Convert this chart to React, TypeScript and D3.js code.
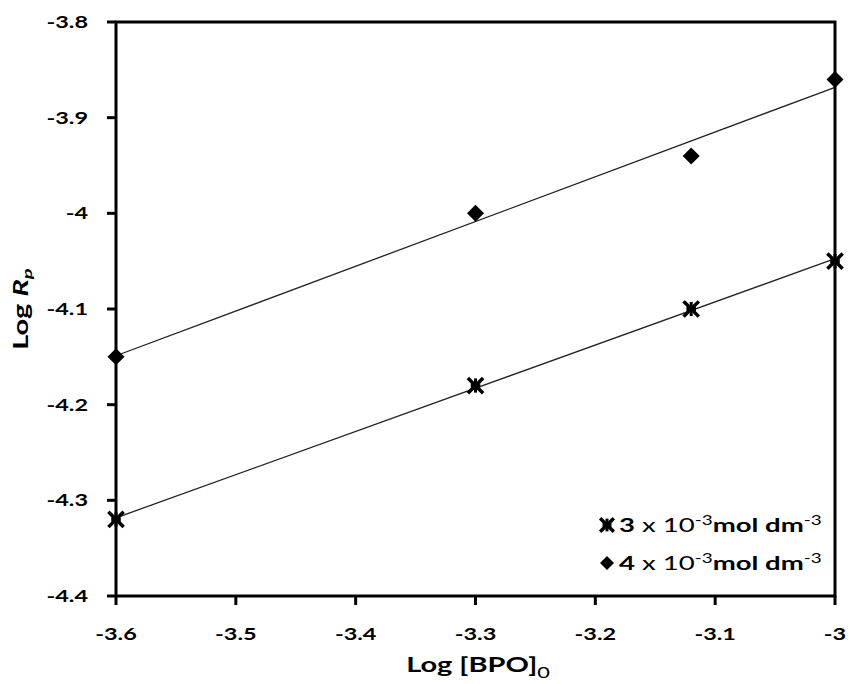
import React from "react";
import * as d3 from "d3";

const xValues = [-3.6, -3.3, -3.12, -3.0];
const series3 = [-4.32, -4.18, -4.10, -4.05];
const series4 = [-4.15, -4.00, -3.94, -3.86];
const xTicks = [-3.6, -3.5, -3.4, -3.3, -3.2, -3.1, -3.0];
const yTicks = [-3.8, -3.9, -4.0, -4.1, -4.2, -4.3, -4.4];
const legendLabels = ["3", "4"];

const W = 850, H = 684;
const left = 116, right = 835, top = 22, bottom = 596;
const FONT = "Lato, 'Open Sans', sans-serif";
const SX = 1.38;

function fit(xs: number[], ys: number[]) {
  const mx = d3.mean(xs)!, my = d3.mean(ys)!;
  let sxx = 0, sxy = 0;
  xs.forEach((x, i) => { sxx += (x - mx) ** 2; sxy += (x - mx) * (ys[i] - my); });
  const b = sxy / sxx;
  return (x: number) => my + b * (x - mx);
}

function Star({ x, y, s = 8 }: { x: number; y: number; s?: number }) {
  return (
    <g stroke="#000" strokeLinecap="square">
      <line x1={x - s * 0.8} y1={y - s * 0.8} x2={x + s * 0.8} y2={y + s * 0.8} strokeWidth={3.5} />
      <line x1={x - s * 0.8} y1={y + s * 0.8} x2={x + s * 0.8} y2={y - s * 0.8} strokeWidth={3.5} />
      <line x1={x} y1={y - s * 0.7} x2={x} y2={y + s * 0.7} strokeWidth={3} />
      <line x1={x - s * 0.35} y1={y} x2={x + s * 0.35} y2={y} strokeWidth={4} />
    </g>
  );
}

function Diamond({ x, y, s = 8.5 }: { x: number; y: number; s?: number }) {
  return <path d={`M${x},${y - s}L${x + s},${y}L${x},${y + s}L${x - s},${y}Z`} fill="#000" />;
}

export default function App() {
  const xs = d3.scaleLinear().domain([-3.6, -3.0]).range([left, right]);
  const ys = d3.scaleLinear().domain([-4.4, -3.8]).range([bottom, top]);
  const f3 = fit(xValues, series3);
  const f4 = fit(xValues, series4);
  const fmt = (v: number) => (Math.abs(v - Math.round(v)) < 1e-9 ? String(Math.round(v)) : v.toFixed(1));
  const legendY = [532, 570];
  return (
    <svg width={W} height={H} style={{ position: "absolute", left: 0, top: 0, background: "#fff" }}>
      <rect x={0} y={0} width={W} height={H} fill="#fff" />
      {/* trend lines */}
      <line x1={xs(-3.6)} y1={ys(f3(-3.6))} x2={xs(-3.0)} y2={ys(f3(-3.0))} stroke="#222" strokeWidth={1.3} />
      <line x1={xs(-3.6)} y1={ys(f4(-3.6))} x2={xs(-3.0)} y2={ys(f4(-3.0))} stroke="#222" strokeWidth={1.3} />
      {/* axes box */}
      <rect x={left} y={top} width={right - left} height={bottom - top} fill="none" stroke="#000" strokeWidth={3} />
      {yTicks.map((t) => (
        <g key={"y" + t}>
          <line x1={left - 9} x2={left} y1={ys(t)} y2={ys(t)} stroke="#000" strokeWidth={3} />
          <text transform={`translate(88,${ys(t) + 6}) scale(${SX},1)`} textAnchor="end" fontFamily={FONT} fontWeight="bold" fontSize={17}>{fmt(t)}</text>
        </g>
      ))}
      {xTicks.map((t) => (
        <g key={"x" + t}>
          <line x1={xs(t)} x2={xs(t)} y1={bottom} y2={bottom + 9} stroke="#000" strokeWidth={3} />
          <text transform={`translate(${xs(t)},640) scale(${SX},1)`} textAnchor="middle" fontFamily={FONT} fontWeight="bold" fontSize={17}>{fmt(t)}</text>
        </g>
      ))}
      {/* markers */}
      {xValues.map((x, i) => <Diamond key={"d" + i} x={xs(x)} y={ys(series4[i])} />)}
      {xValues.map((x, i) => <Star key={"s" + i} x={xs(x)} y={ys(series3[i])} />)}
      {/* axis titles */}
      <text transform={`translate(478,672) scale(1.45,1)`} textAnchor="middle" fontFamily={FONT} fontWeight="bold" fontSize={20}>
        Log [BPO]<tspan fontSize={15} dy={6} fontWeight="normal">0</tspan>
      </text>
      <text transform={`translate(28,309) rotate(-90) scale(1.45,1)`} textAnchor="middle" fontFamily={FONT} fontWeight="bold" fontSize={20}>
        Log <tspan fontStyle="italic">R</tspan><tspan fontStyle="italic" fontSize={14} dy={4}>p</tspan>
      </text>
      {/* legend */}
      {legendLabels.map((lab, i) => (
        <g key={"lg" + i}>
          {i === 0 ? <Star x={607} y={legendY[i] - 7} s={7} /> : <Diamond x={607} y={legendY[i] - 7} s={7} />}
          <text transform={`translate(619,${legendY[i]}) scale(1.45,1)`} fontFamily={FONT} fontSize={19}>
            <tspan fontWeight="bold">{lab}</tspan><tspan> x 10</tspan><tspan fontSize={13} dy={-7}>-3</tspan><tspan fontWeight="bold" dy={7}>mol dm</tspan><tspan fontSize={13} dy={-7}>-3</tspan>
          </text>
        </g>
      ))}
    </svg>
  );
}
